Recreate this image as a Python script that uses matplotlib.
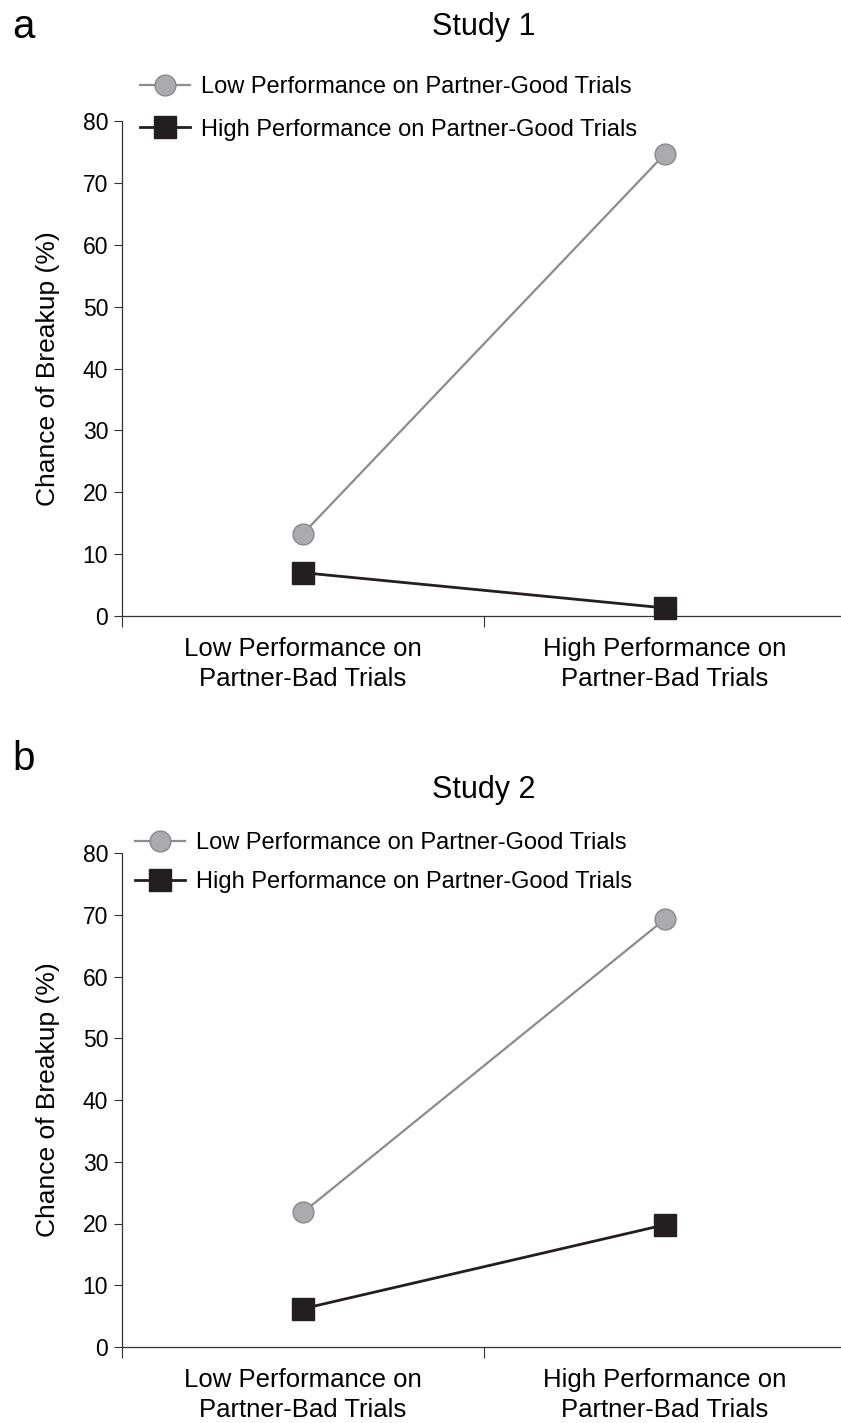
import matplotlib
matplotlib.use("Agg")
import matplotlib.pyplot as plt
from matplotlib.lines import Line2D

plt.rcParams['font.family'] = ['Liberation Sans', 'DejaVu Sans']

categories = ["Low Performance on\nPartner-Bad Trials", "High Performance on\nPartner-Bad Trials"]
series_names = ["Low Performance on Partner-Good Trials", "High Performance on Partner-Good Trials"]
study1_low_good = [13.3, 74.7]
study1_high_good = [7.0, 1.3]
study2_low_good = [21.8, 69.3]
study2_high_good = [6.2, 19.8]
yticks = [0, 10, 20, 30, 40, 50, 60, 70, 80]
titles = ["Study 1", "Study 2"]
panel_letters = ["a", "b"]

W, H = 841, 1423
fig = plt.figure(figsize=(W/100, H/100), dpi=100)

def fx(px):
    return px / W

def fy(py):
    return 1 - py / H

ax_left = 122
ax_right = 846
panels = [
    dict(top=121, bottom=616, low=study1_low_good, high=study1_high_good,
         title_y=27, letter_y=27, leg_x=140, leg_y=76, leg_sp=0.87),
    dict(top=853, bottom=1347, low=study2_low_good, high=study2_high_good,
         title_y=790, letter_y=759, leg_x=135, leg_y=832, leg_sp=0.72),
]

grey_face = "#ababae"
grey_edge = "#8a8a8c"
grey_line = "#8c8c8c"
black = "#231f20"

for i, p in enumerate(panels):
    ax = fig.add_axes([fx(ax_left), fy(p['bottom']), fx(ax_right - ax_left),
                       (p['bottom'] - p['top']) / H])
    xs = [0.5, 1.5]
    ax.plot(xs, p['low'], color=grey_line, lw=1.6, marker='o', markersize=15,
            markerfacecolor=grey_face, markeredgecolor=grey_edge, markeredgewidth=1.0,
            clip_on=False, zorder=3)
    ax.plot(xs, p['high'], color=black, lw=2.0, marker='s', markersize=16,
            markerfacecolor=black, markeredgecolor=black, clip_on=False, zorder=4)
    ax.set_xlim(0, 2)
    ax.set_ylim(0, 80)
    ax.set_yticks(yticks)
    ax.set_yticklabels([str(v) for v in yticks], fontsize=16.5)
    ax.set_xticks([0, 1, 2])
    ax.set_xticklabels([])
    ax.set_xticks(xs, minor=True)
    ax.set_xticklabels(categories, minor=True, fontsize=18.5, linespacing=1.32)
    ax.tick_params(axis='x', which='minor', length=0, pad=15)
    ax.tick_params(axis='x', which='major', length=8, width=0.8, direction='out', color='#333333')
    ax.tick_params(axis='y', length=6, width=0.8, direction='out', pad=4, color='#333333')
    for s in ['top', 'right']:
        ax.spines[s].set_visible(False)
    for s in ['left', 'bottom']:
        ax.spines[s].set_linewidth(0.9)
        ax.spines[s].set_color('#333333')
    ax.set_ylabel("Chance of Breakup (%)", fontsize=19)
    ax.yaxis.set_label_coords(-(122 - 60) / (ax_right - ax_left), 0.5)
    handles = [
        Line2D([], [], color=grey_line, lw=1.6, marker='o', markersize=15,
               markerfacecolor=grey_face, markeredgecolor=grey_edge),
        Line2D([], [], color=black, lw=2.0, marker='s', markersize=16,
               markerfacecolor=black, markeredgecolor=black),
    ]
    fig.legend(handles, series_names, loc='upper left',
               bbox_to_anchor=(fx(p['leg_x']), fy(p['leg_y'])), frameon=False,
               fontsize=17, handlelength=2.1, handletextpad=0.5, labelspacing=p['leg_sp'],
               borderaxespad=0, borderpad=0)
    fig.text(fx(484), fy(p['title_y']), titles[i], fontsize=22, ha='center', va='center')
    fig.text(fx(12), fy(p['letter_y']), panel_letters[i], fontsize=29, ha='left', va='center')

fig.savefig("out.png", dpi=100)
